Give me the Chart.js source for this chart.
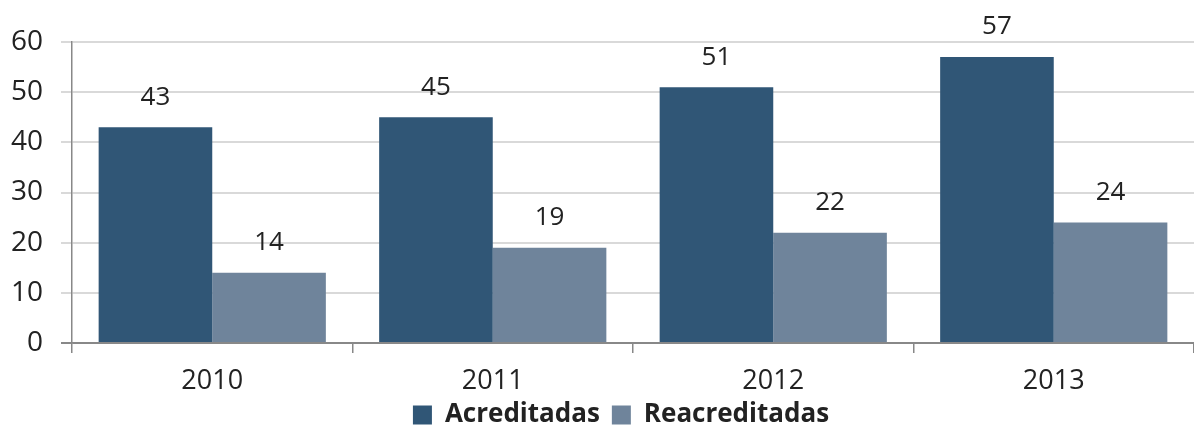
<!DOCTYPE html>
<html>
<head>
<meta charset="utf-8">
<script src="https://cdn.jsdelivr.net/npm/chart.js@4/dist/chart.umd.min.js"></script>
<style>
html,body{margin:0;padding:0;background:#fff;}
#wrap{width:1194px;height:425px;position:relative;}
</style>
</head>
<body>
<div id="wrap"><canvas id="c"></canvas></div>
<script>
const categories = ['2010', '2011', '2012', '2013'];
const acreditadas = [43, 45, 51, 57];
const reacreditadas = [14, 19, 22, 24];
const yTicks = [0, 10, 20, 30, 40, 50, 60];

const FONT = "'Open Sans', 'Noto Sans', sans-serif";

const valueLabels = {
  id: 'valueLabels',
  afterDatasetsDraw(chart) {
    const ctx = chart.ctx;
    ctx.save();
    ctx.font = "26px " + FONT;
    ctx.fillStyle = '#222';
    ctx.textAlign = 'center';
    ctx.textBaseline = 'middle';
    chart.data.datasets.forEach((ds, di) => {
      const meta = chart.getDatasetMeta(di);
      meta.data.forEach((bar, i) => {
        ctx.fillText(String(ds.data[i]), bar.x, bar.y - 30);
      });
    });
    ctx.restore();
  }
};

// Reserve a compact legend band, then let the legend overlap slightly upward
const legendHeight = {
  id: 'legendHeight',
  beforeLayout(chart) {
    const lg = chart.legend;
    if (lg && !lg._fixedFit) {
      const orig = lg.fit.bind(lg);
      lg.fit = function () { orig(); this.height = 28; };
      lg._fixedFit = true;
    }
  },
  afterLayout(chart) {
    const lg = chart.legend;
    if (lg) {
      lg.top = chart.height - 35;
      lg.bottom = chart.height;
      lg.height = 35;
      lg.left = 24;
      lg.right = chart.width + 24;
    }
  }
};

new Chart(document.getElementById('c'), {
  type: 'bar',
  data: {
    labels: categories,
    datasets: [
      { label: 'Acreditadas', data: acreditadas, backgroundColor: '#305676', categoryPercentage: 0.81, barPercentage: 1.0 },
      { label: 'Reacreditadas', data: reacreditadas, backgroundColor: '#6f849b', categoryPercentage: 0.81, barPercentage: 1.0 }
    ]
  },
  options: {
    responsive: true,
    maintainAspectRatio: false,
    animation: false,
    layout: { padding: { top: 42, right: 0, left: 0, bottom: 0 } },
    plugins: {
      legend: {
        position: 'bottom',
        labels: {
          font: { family: FONT, size: 26, weight: 'bold' },
          color: '#222',
          boxWidth: 19,
          boxHeight: 19,
          padding: 12
        }
      },
      tooltip: { enabled: false }
    },
    scales: {
      x: {
        afterFit(axis) { axis.height = 54; },
        grid: { display: true, drawOnChartArea: false, drawTicks: true, tickLength: 10, color: '#888', lineWidth: 1.5, offset: true },
        border: { display: true, color: '#888', width: 1.5 },
        ticks: { font: { family: FONT, size: 27 }, color: '#222', padding: 12 }
      },
      y: {
        min: 0, max: 60,
        afterBuildTicks(axis) { axis.ticks = yTicks.map(v => ({ value: v })); },
        afterFit(axis) { axis.width = 72; },
        grid: {
          color: (c) => c.tick && c.tick.value === 0 ? '#888' : '#d9d9d9',
          lineWidth: 2,
          tickLength: 11,
          drawTicks: true
        },
        border: { display: true, color: '#888', width: 1.5 },
        ticks: { font: { family: FONT, size: 28 }, color: '#222', padding: 18 }
      }
    }
  },
  plugins: [valueLabels, legendHeight]
});
</script>
</body>
</html>
